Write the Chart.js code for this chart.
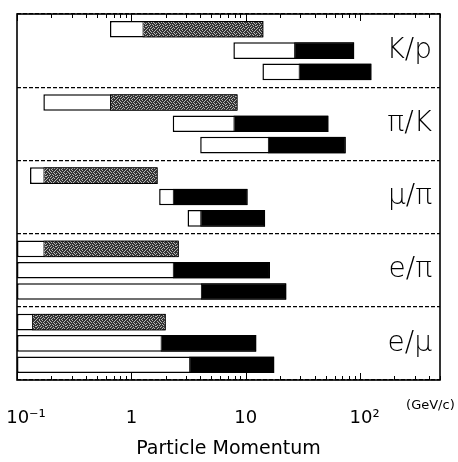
<!DOCTYPE html>
<html>
<head>
<meta charset="utf-8">
<script src="https://cdn.jsdelivr.net/npm/chart.js@4/dist/chart.umd.min.js"></script>
<style>
  html, body { margin: 0; padding: 0; background: #fff; }
  #wrap { width: 458px; height: 462px; position: relative; }
</style>
</head>
<body>
<div id="wrap"><canvas id="chart"></canvas></div>
<script>
// Particle pairs, one band per pair
const pairs = ['K/p', 'π/K', 'μ/π', 'e/π', 'e/μ'];

// Momentum coverage in GeV/c for the three techniques of each band:
// open part runs from Start to Mid, filled part from Mid to End
const row1Start = [0.65, 0.17, 0.13, 0.1, 0.1];
const row1Mid   = [1.25, 0.65, 0.17, 0.17, 0.135];
const row1End   = [14.3, 8.5, 1.7, 2.6, 2.0];

const row2Start = [7.8, 2.3, 1.75, 0.1, 0.1];
const row2Mid   = [26.5, 7.8, 2.3, 2.3, 1.8];
const row2End   = [89, 53, 10.4, 16.3, 12.4];

const row3Start = [14, 4.0, 3.1, 0.1, 0.1];
const row3Mid   = [29, 15.6, 4.0, 4.05, 3.2];
const row3End   = [126, 75, 14.8, 22.7, 17.8];

// Labelled decades on the momentum axis
const majorTicks  = [0.1, 1, 10, 100];
const majorLabels = ['\u2002\u200210\u207B\u00B9', '1', '10', '\u200210\u00B2'];
const unitLabel = '(GeV/c)';

const FONT = '"DejaVu Sans", "Liberation Sans", sans-serif';

// Grainy stipple used for the first technique's filled part
function stipple() {
  const tile = [
    '1101101110',
    '0111011011',
    '1010111101',
    '1111010110',
    '0101101111',
    '1110111010',
    '1011100111',
    '0110111101',
    '1101011011',
    '1011110110'
  ];
  const c = document.createElement('canvas');
  c.width = 10; c.height = 10;
  const g = c.getContext('2d');
  tile.forEach((row, y) => [...row].forEach((v, x) => {
    g.fillStyle = v === '1' ? '#333333' : '#b4b4b4';
    g.fillRect(x, y, 1, 1);
  }));
  return g.createPattern(c, 'repeat');
}

const ranges = (a, b) => a.map((v, i) => [v, b[i]]);

const barCommon = {
  borderColor: '#000',
  borderSkipped: false,
  categoryPercentage: 0.874,
  barPercentage: 0.78
};

// open bars sit behind (higher order), filled parts are painted over them
const datasets = [
  { ...barCommon, label: 'r1 open', data: ranges(row1Start, row1End), backgroundColor: '#fff', borderWidth: 1.5, stack: 'r1', order: 2 },
  { ...barCommon, label: 'r1 fill', data: ranges(row1Mid, row1End), backgroundColor: stipple(), borderWidth: 1, stack: 'r1', order: 1 },
  { ...barCommon, label: 'r2 open', data: ranges(row2Start, row2End), backgroundColor: '#fff', borderWidth: 1.5, stack: 'r2', order: 2 },
  { ...barCommon, label: 'r2 fill', data: ranges(row2Mid, row2End), backgroundColor: '#000', borderWidth: 1, stack: 'r2', order: 1 },
  { ...barCommon, label: 'r3 open', data: ranges(row3Start, row3End), backgroundColor: '#fff', borderWidth: 1.5, stack: 'r3', order: 2 },
  { ...barCommon, label: 'r3 fill', data: ranges(row3Mid, row3End), backgroundColor: '#000', borderWidth: 1, stack: 'r3', order: 1 }
];

// Frame, inward tick marks on top and bottom edges, and the unit note
const framePlugin = {
  id: 'frame',
  afterDraw(chart) {
    const { ctx, chartArea: a, scales: { x } } = chart;
    ctx.save();
    ctx.strokeStyle = '#000';
    ctx.lineWidth = 1.6;
    ctx.strokeRect(a.left, a.top, a.right - a.left, a.bottom - a.top);
    ctx.lineWidth = 1;
    ctx.beginPath();
    x.ticks.forEach(t => {
      const px = Math.round(x.getPixelForValue(t.value)) + 0.5;
      const len = majorTicks.includes(t.value) ? 7 : 4;
      ctx.moveTo(px, a.top); ctx.lineTo(px, a.top + len);
      ctx.moveTo(px, a.bottom); ctx.lineTo(px, a.bottom - len);
    });
    ctx.stroke();
    ctx.fillStyle = '#000';
    ctx.font = '13px ' + FONT;
    ctx.textAlign = 'left';
    ctx.textBaseline = 'middle';
    const p100 = x.getPixelForValue(100);
    ctx.fillText(unitLabel, p100 + 46, x.top + 26);
    ctx.restore();
  }
};

new Chart(document.getElementById('chart'), {
  type: 'bar',
  data: { labels: pairs, datasets },
  options: {
    indexAxis: 'y',
    responsive: true,
    maintainAspectRatio: false,
    animation: false,
    layout: { padding: { left: 17, top: 14, right: 18, bottom: 0 } },
    plugins: { legend: { display: false }, tooltip: { enabled: false } },
    scales: {
      x: {
        type: 'logarithmic',
        min: 0.1,
        max: 500,
        stacked: false,
        position: 'bottom',
        grid: { display: false, drawTicks: false },
        border: { display: false },
        afterBuildTicks(scale) {
          const vals = [];
          for (let d = 0.1; d < 1000; d *= 10) {
            for (let m = 1; m <= 9; m++) {
              const v = +(m * d).toPrecision(3);
              if (v <= 500) vals.push(v);
            }
          }
          scale.ticks = vals.map(v => ({ value: v }));
        },
        afterFit(scale) {
          scale.height = 82;
          scale.paddingLeft = 0;
          scale.paddingRight = 0;
        },
        ticks: {
          autoSkip: false,
          maxRotation: 0,
          padding: 28,
          color: '#000',
          font: { family: FONT, size: 18 },
          callback(value) {
            const i = majorTicks.indexOf(+(+value).toPrecision(3));
            return i >= 0 ? majorLabels[i] : '';
          }
        },
        title: {
          display: true,
          text: 'Particle Momentum',
          color: '#000',
          font: { family: FONT, size: 19 },
          padding: { top: 6, bottom: 2 }
        }
      },
      y: {
        type: 'category',
        position: 'right',
        offset: true,
        grid: { display: true, offset: true, color: '#000', lineWidth: 1.3, drawTicks: false },
        border: { display: false, dash: [4, 2] },
        afterFit(scale) {
          scale.width = 0;
          scale.paddingTop = 0;
          scale.paddingBottom = 0;
        },
        ticks: {
          mirror: true,
          padding: -8,
          color: '#000',
          font: { family: FONT, size: 28, weight: '200' }
        }
      }
    }
  },
  plugins: [framePlugin]
});
</script>
</body>
</html>
